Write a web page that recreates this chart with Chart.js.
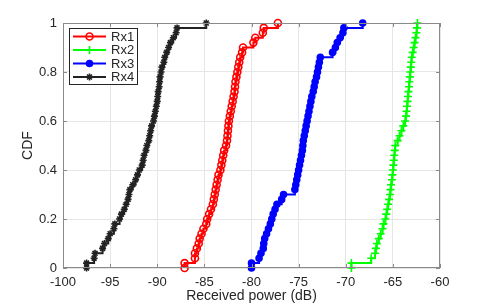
<!DOCTYPE html>
<html>
<head>
<meta charset="utf-8">
<script src="https://cdn.jsdelivr.net/npm/chart.js@4.4.0/dist/chart.umd.min.js"></script>
<style>
  html, body { margin: 0; padding: 0; background: #fff; }
  canvas { display: block; }
</style>
</head>
<body>
<canvas id="cdfChart" width="485" height="305"></canvas>
<script>
// received power samples (dB) per receiver
const RX1 = [-87.1, -86.0, -86.0, -85.8, -85.6, -85.5, -85.3, -85.1, -84.8, -84.7,
  -84.5, -84.3, -84.1, -84.0, -83.9, -83.8, -83.7, -83.6, -83.5, -83.3,
  -83.2, -83.1, -83.0, -82.9, -82.7, -82.6, -82.55, -82.5, -82.45, -82.4,
  -82.3, -82.2, -82.1, -82.0, -81.9, -81.8, -81.75, -81.7, -81.6, -81.5,
  -81.4, -81.3, -81.2, -81.0, -80.9, -79.8, -79.6, -78.8, -78.7, -77.2];
const RX2 = [-69.4, -67.3, -66.9, -66.8, -66.7, -66.5, -66.3, -66.1, -66.0, -65.8,
  -65.7, -65.6, -65.5, -65.4, -65.3, -65.25, -65.2, -65.1, -65.05, -65.0,
  -64.95, -64.9, -64.85, -64.8, -64.75, -64.5, -64.3, -64.1, -63.9, -63.7,
  -63.6, -63.55, -63.5, -63.45, -63.4, -63.35, -63.3, -63.25, -63.2, -63.15,
  -63.1, -63.05, -63.0, -62.9, -62.8, -62.7, -62.6, -62.5, -62.45, -62.4];
const RX3 = [-80.0, -79.2, -79.0, -78.75, -78.7, -78.6, -78.4, -78.2, -78.0, -77.85,
  -77.7, -77.5, -77.3, -76.8, -76.6, -75.4, -75.3, -75.2, -75.1, -75.0,
  -74.9, -74.8, -74.7, -74.6, -74.55, -74.5, -74.4, -74.3, -74.2, -74.1,
  -74.0, -73.9, -73.8, -73.7, -73.6, -73.45, -73.35, -73.25, -73.1, -73.0,
  -72.9, -72.8, -72.7, -71.4, -71.1, -70.9, -70.6, -70.3, -70.2, -68.2];
const RX4 = [-97.5, -96.7, -96.6, -95.8, -95.6, -95.2, -95.0, -94.6, -94.5, -94.0,
  -93.8, -93.5, -93.3, -93.1, -93.0, -92.9, -92.6, -92.3, -92.1, -91.9,
  -91.6, -91.5, -91.4, -91.2, -91.1, -90.9, -90.8, -90.7, -90.6, -90.4,
  -90.3, -90.2, -90.1, -90.0, -89.95, -89.9, -89.8, -89.75, -89.7, -89.6,
  -89.5, -89.3, -89.2, -89.0, -88.8, -88.6, -88.3, -88.0, -87.9, -84.8];

const X_TICKS = [-100, -95, -90, -85, -80, -75, -70, -65, -60];
const Y_TICKS = [0, 0.2, 0.4, 0.6, 0.8, 1];

const FONT = "'Liberation Sans', Arial, Helvetica, sans-serif";
const TEXT = '#262626';

// empirical CDF: first point at 0, then one step per sample
function ecdf(samples) {
  const s = samples.slice().sort((a, b) => a - b);
  const n = s.length;
  const pts = [{ x: s[0], y: 0 }];
  s.forEach((v, i) => pts.push({ x: v, y: (i + 1) / n }));
  return pts;
}

function series(label, samples, color, style, radius, fill) {
  return {
    label: label,
    data: ecdf(samples),
    borderColor: color,
    backgroundColor: fill,
    borderWidth: 2,
    stepped: true,
    pointStyle: style,
    pointRadius: radius,
    pointBorderColor: color,
    pointBackgroundColor: fill,
    pointBorderWidth: 1.6,
    clip: 8
  };
}

// box, inward ticks and the MATLAB-like legend
const frameAndLegend = {
  id: 'frameAndLegend',
  afterDatasetsDraw(chart) {
    const ctx = chart.ctx;
    const a = chart.chartArea;
    const xs = chart.scales.x, ys = chart.scales.y;
    ctx.save();
    ctx.strokeStyle = '#8a8a8a';
    ctx.lineWidth = 1;
    ctx.strokeRect(a.left + 0.5, a.top + 0.5, a.right - a.left - 1, a.bottom - a.top - 1);
    ctx.beginPath();
    X_TICKS.forEach(v => {
      const px = Math.round(xs.getPixelForValue(v)) + 0.5;
      ctx.moveTo(px, a.bottom); ctx.lineTo(px, a.bottom - 4);
      ctx.moveTo(px, a.top); ctx.lineTo(px, a.top + 4);
    });
    Y_TICKS.forEach(v => {
      const py = Math.round(ys.getPixelForValue(v)) + 0.5;
      ctx.moveTo(a.left, py); ctx.lineTo(a.left + 4, py);
      ctx.moveTo(a.right, py); ctx.lineTo(a.right - 4, py);
    });
    ctx.stroke();

    // legend
    const lx = 69, ly = 28, lw = 68, lh = 56;
    ctx.fillStyle = '#fff';
    ctx.fillRect(lx, ly, lw, lh);
    ctx.strokeStyle = '#262626';
    ctx.strokeRect(lx + 0.5, ly + 0.5, lw, lh);
    ctx.font = '13px ' + FONT;
    ctx.textBaseline = 'middle';
    chart.data.datasets.forEach((ds, i) => {
      const y = ly + 8.5 + i * 13.5;
      ctx.strokeStyle = ds.borderColor;
      ctx.lineWidth = 2;
      ctx.beginPath();
      ctx.moveTo(lx + 4, y); ctx.lineTo(lx + 37, y);
      ctx.stroke();
      ctx.fillStyle = ds.pointBackgroundColor;
      ctx.strokeStyle = ds.pointBorderColor;
      ctx.lineWidth = ds.pointBorderWidth;
      Chart.helpers.drawPoint(ctx, { pointStyle: ds.pointStyle, rotation: 0, radius: ds.pointRadius, borderWidth: ds.pointBorderWidth }, lx + 20.5, y);
      ctx.fillStyle = TEXT;
      ctx.textAlign = 'left';
      ctx.fillText(ds.label, lx + 42, y + 0.5);
    });
    ctx.restore();
  }
};

new Chart(document.getElementById('cdfChart'), {
  type: 'line',
  data: {
    datasets: [
      series('Rx1', RX1, '#ff0000', 'circle', 3.5, 'rgba(255,255,255,0)'),
      series('Rx2', RX2, '#00ff00', 'cross', 4, '#00ff00'),
      series('Rx3', RX3, '#0000ff', 'circle', 3, '#0000ff'),
      series('Rx4', RX4, '#222222', 'star', 3.5, '#222222')
    ]
  },
  options: {
    responsive: false,
    animation: false,
    devicePixelRatio: 1,
    layout: { padding: { left: 0, right: 45, top: 23, bottom: 0 } },
    plugins: { legend: { display: false }, tooltip: { enabled: false } },
    scales: {
      x: {
        type: 'linear',
        min: -100,
        max: -60,
        afterBuildTicks: sc => { sc.ticks = X_TICKS.map(v => ({ value: v })); },
        afterFit: sc => { sc.height = 37; },
        grid: { color: '#e6e6e6', drawTicks: false },
        border: { display: false },
        ticks: { padding: 7, color: TEXT, font: { family: FONT, size: 13 }, maxRotation: 0, autoSkip: false, callback: v => String(v) },
        title: { display: true, text: 'Received power (dB)', color: TEXT, font: { family: FONT, size: 14 }, padding: { top: 0, bottom: 0 } }
      },
      y: {
        type: 'linear',
        min: 0,
        max: 1,
        afterBuildTicks: sc => { sc.ticks = Y_TICKS.map(v => ({ value: v })); },
        afterFit: sc => { sc.width = 63; },
        grid: { color: '#e6e6e6', drawTicks: false },
        border: { display: false },
        ticks: { padding: 6, color: TEXT, font: { family: FONT, size: 13 }, autoSkip: false, callback: v => String(v) },
        title: { display: true, text: 'CDF', color: TEXT, font: { family: FONT, size: 14 }, padding: { top: 20, bottom: 0 } }
      }
    }
  },
  plugins: [frameAndLegend]
});
</script>
</body>
</html>
